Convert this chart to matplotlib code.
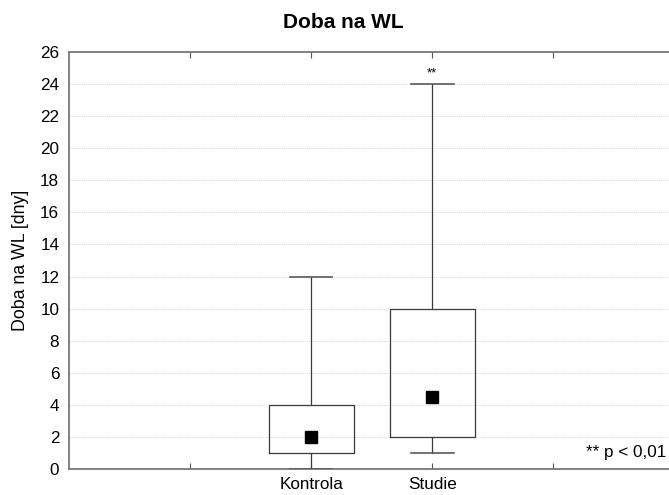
import matplotlib
matplotlib.use("Agg")
import matplotlib.pyplot as plt

categories = ["Kontrola", "Studie"]
whisker_low = [0, 1]
box_q1 = [1, 2]
box_q3 = [4, 10]
whisker_high = [12, 24]
centers = [2, 4.5]
y_ticks = list(range(0, 27, 2))
signif_label = "**"
note = "** p < 0,01"

plt.rcParams['font.family'] = ['Liberation Sans', 'DejaVu Sans']

fig = plt.figure(figsize=(6.69, 4.95), dpi=100)
ax = fig.add_axes([69/669, 1 - 469/495, 1 - 69/669 + 0.001, (469-52)/495])

positions = [2, 3]
stats = []
for i, c in enumerate(categories):
    stats.append(dict(label=c, whislo=whisker_low[i], q1=box_q1[i], med=centers[i],
                      q3=box_q3[i], whishi=whisker_high[i], mean=centers[i], fliers=[]))

ax.bxp(stats, positions=positions, widths=0.70, showmeans=True, showfliers=False,
       boxprops=dict(color='#3a3a3a', linewidth=0.9),
       whiskerprops=dict(color='#3a3a3a', linewidth=0.9),
       capprops=dict(color='#5a5a5a', linewidth=1.2),
       capwidths=0.35,
       medianprops=dict(linewidth=0),
       meanprops=dict(marker='s', markerfacecolor='black', markeredgecolor='black', markersize=9),
       manage_ticks=False, zorder=3)

ax.set_xlim(0, 4.96)
ax.set_ylim(0, 26)
ax.set_yticks(y_ticks)
ax.set_xticks([1, 2, 3, 4])
ax.set_xticklabels(["", categories[0], categories[1], ""])
ax.tick_params(axis='x', direction='in', top=True, length=4, color='#555555', labelsize=12.3, pad=6)
ax.tick_params(axis='y', length=0, labelsize=12.3, pad=7)
for s in ['left', 'bottom', 'top']:
    ax.spines[s].set_color('#777777')
    ax.spines[s].set_linewidth(1.3)
ax.spines['right'].set_visible(False)

for y in y_ticks[1:-1]:
    ax.axhline(y, color='#c8c8c8', linestyle=(0, (1, 1.5)), linewidth=0.6, zorder=0)

ax.text(3, whisker_high[1] + 0.3, signif_label, ha='center', va='bottom', fontsize=9.5)
ax.text(4.93, 1.05, note, ha='right', va='center', fontsize=12.3)

ax.set_ylabel("Doba na WL [dny]", fontsize=12.8, labelpad=8)
fig.text(0.513, 1 - 22/495, "Doba na WL", ha='center', va='center', fontsize=15, fontweight='bold')

fig.savefig("out.png", dpi=100)
